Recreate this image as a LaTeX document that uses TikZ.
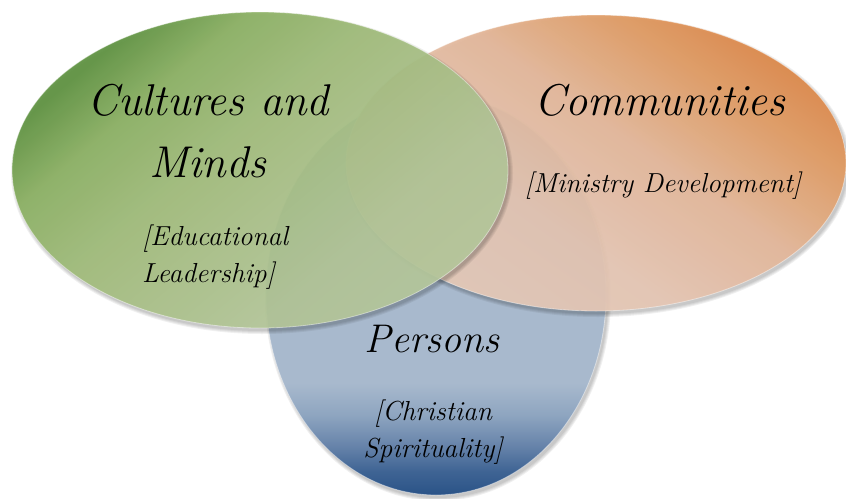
\documentclass[tikz,border=0pt]{standalone}
\usepackage{xcolor}
\usepackage{tikz}
\usetikzlibrary{positioning}
\definecolor{mindsdark}{HTML}{5E9240}
\definecolor{mindsdeep}{HTML}{8BB062}
\definecolor{mindsmid}{HTML}{A0BC7A}
\definecolor{mindspale}{HTML}{B3C698}
\definecolor{mindslight}{HTML}{C0CEA9}
\definecolor{commdark}{HTML}{DD8748}
\definecolor{commdeep}{HTML}{E09B63}
\definecolor{commmid}{HTML}{E3B698}
\definecolor{commpale}{HTML}{E5C6B3}
\definecolor{commlight}{HTML}{EAD4C6}
\definecolor{persdark}{HTML}{2A5387}
\definecolor{persdeep}{HTML}{3F6494}
\definecolor{persmid}{HTML}{6582A9}
\definecolor{perspale}{HTML}{8EA5C0}
\definecolor{perslight}{HTML}{A8B9CD}
% colour ramps for the three ellipses
\pgfdeclareverticalshading{persshade}{100bp}{color(0bp)=(persdark); color(25bp)=(persdark);
  color(28bp)=(persdeep); color(31bp)=(persmid); color(35bp)=(perspale); color(39bp)=(perslight);
  color(100bp)=(perslight)}
\pgfdeclareverticalshading{mindsshade}{100bp}{color(0bp)=(mindslight); color(35bp)=(mindspale);
  color(55bp)=(mindsmid); color(66bp)=(mindsdeep); color(74bp)=(mindsdark); color(100bp)=(mindsdark)}
\pgfdeclareverticalshading{commshade}{100bp}{color(0bp)=(commlight); color(40bp)=(commpale);
  color(55bp)=(commmid); color(67bp)=(commdeep); color(75bp)=(commdark); color(100bp)=(commdark)}
\tikzstyle{venn} = [fill opacity=0.92]
\tikzstyle{rim} = [draw=white, draw opacity=0.45, line width=0.8pt]
\tikzstyle{vennshadow} = [fill=black, opacity=0.06]
\tikzstyle{title} = [font=\fontsize{44.5}{62}\selectfont\itshape, align=center, anchor=base, inner sep=0pt]
\tikzstyle{persontitle} = [font=\fontsize{40}{50}\selectfont\itshape, align=center, anchor=base, inner sep=0pt]
\tikzstyle{sub} = [font=\fontsize{27.5}{37}\selectfont\itshape, align=center, anchor=base, inner sep=0pt]

\begin{document}
\begin{tikzpicture}[x=1pt,y=-1pt]
    \useasboundingbox (0,0) rectangle (846,498);
    % Persons (lowest layer)
    \foreach \s in {0,...,3}
        \fill[vennshadow] (438,298) ellipse [x radius=170+\s, y radius=200+\s];
    \shade[shading=persshade] (436,295) ellipse [x radius=170, y radius=200];
    \draw[rim] (436,295) ellipse [x radius=170, y radius=200];
    % Communities
    \foreach \s in {0,...,3}
        \fill[vennshadow] (598,166) ellipse [x radius=250+\s, y radius=148+\s];
    \shade[venn, shading=commshade, shading angle=-35] (596,163) ellipse [x radius=250, y radius=148];
    \draw[rim] (596,163) ellipse [x radius=250, y radius=148];
    % Cultures and Minds (top layer)
    \foreach \s in {0,...,3}
        \fill[vennshadow] (262,173) ellipse [x radius=248+\s, y radius=158+\s];
    \shade[venn, shading=mindsshade, shading angle=40] (260,170) ellipse [x radius=248, y radius=158];
    \draw[rim] (260,170) ellipse [x radius=248, y radius=158];
    % Place labels (base = last line)
    \node[title] (minds) at (208,177) {Cultures and\\Minds};
    \node[sub, align=left, anchor=base west] (mindssub) at (142,282) {[Educational\\Leadership]};
    \node[title] (comm) at (660,115) {Communities};
    \node[sub] (commsub) at (663,192) {[Ministry Development]};
    \node[persontitle] (pers) at (432,352) {Persons};
    \node[sub] (perssub) at (433,457) {[Christian\\Spirituality]};
\end{tikzpicture}
\end{document}
